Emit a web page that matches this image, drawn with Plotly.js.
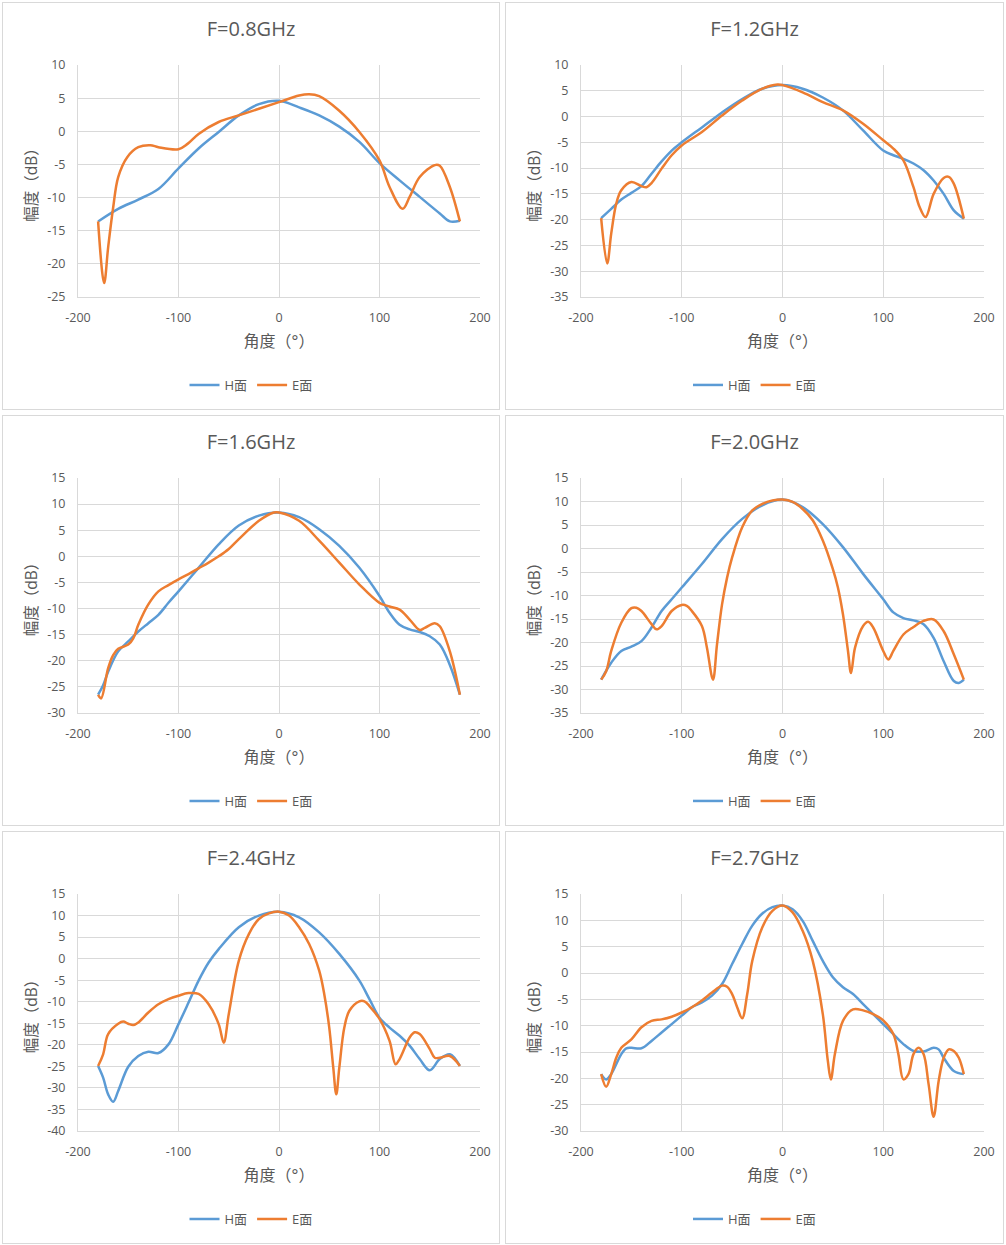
<!DOCTYPE html>
<html>
<head>
<meta charset="utf-8">
<script src="https://cdn.plot.ly/plotly-3.0.1.min.js"></script>
<style>
  body { margin: 0; background: #fff; }
  .chartBox {
    position: absolute;
    box-sizing: border-box;
    border: 1px solid #d9d9d9;
    background: #fff;
  }
</style>
</head>
<body>
<script>
// 0.8 GHz
var h08Deg = [-180, -160, -140, -120, -100, -80, -60, -40, -20, 0, 20, 40, 60, 80, 100, 120, 140, 160, 170, 180];
var h08Val = [-13.6, -11.7, -10.3, -8.7, -5.6, -2.6, -0.1, 2.4, 4.1, 4.6, 3.6, 2.4, 0.7, -1.6, -4.8, -7.4, -9.9, -12.4, -13.6, -13.5];
var e08Deg = [-180, -174, -170, -165, -160, -151, -140, -128, -120, -100, -91, -80, -60, -40, -20, 0, 20, 30, 40, 60, 80, 100, 110, 123, 130, 140, 155, 160, 170, 180];
var e08Val = [-13.6, -22.9, -17.5, -11.5, -6.9, -3.9, -2.4, -2.1, -2.4, -2.7, -1.9, -0.4, 1.4, 2.4, 3.4, 4.4, 5.4, 5.6, 5.3, 3.1, -0.1, -4.4, -8.4, -11.7, -9.9, -6.9, -5.1, -5.2, -8.4, -13.6];

// 1.2 GHz
var h12Deg = [-180, -170, -160, -150, -140, -130, -120, -110, -100, -80, -60, -40, -20, 0, 20, 40, 60, 80, 100, 110, 120, 130, 140, 150, 160, 170, 180];
var h12Val = [-19.7, -17.9, -16.1, -14.8, -13.5, -11.1, -8.7, -6.6, -5.0, -2.1, 0.8, 3.4, 5.4, 6.1, 5.4, 3.7, 1.2, -2.7, -6.6, -7.5, -8.2, -9.1, -10.4, -12.4, -15.0, -18.2, -19.8];
var e12Deg = [-180, -174, -170, -165, -160, -150, -140, -135, -130, -120, -110, -100, -80, -60, -40, -20, -5, 0, 20, 40, 60, 80, 100, 110, 120, 130, 136, 142, 150, 160, 165, 170, 180];
var e12Val = [-19.7, -28.5, -22.7, -16.9, -14.3, -12.7, -13.5, -13.7, -12.9, -10.1, -7.5, -5.6, -3.0, 0.2, 3.1, 5.4, 6.2, 6.1, 4.7, 2.8, 1.2, -1.4, -4.6, -6.2, -8.5, -13.7, -17.5, -19.5, -15.0, -11.9, -11.7, -13.0, -19.8];

// 1.6 GHz
var h16Deg = [-180, -175, -170, -160, -150, -140, -130, -120, -110, -100, -80, -60, -40, -20, 0, 20, 40, 60, 80, 100, 110, 120, 130, 140, 150, 160, 170, 180];
var h16Val = [-26.5, -24.7, -22.1, -18.2, -16.3, -14.4, -12.8, -11.2, -8.9, -6.7, -2.2, 2.3, 5.9, 7.8, 8.4, 7.5, 5.2, 2.0, -2.2, -7.6, -10.8, -13.1, -14.0, -14.5, -15.3, -16.9, -20.8, -26.5];
var e16Deg = [-180, -177, -170, -165, -160, -150, -145, -140, -130, -120, -110, -100, -90, -80, -70, -60, -50, -40, -20, -5, 0, 20, 40, 60, 80, 100, 110, 120, 130, 140, 145, 155, 160, 170, 180];
var e16Val = [-26.5, -27.2, -21.4, -18.9, -17.7, -16.9, -15.7, -13.1, -9.2, -6.7, -5.5, -4.4, -3.4, -2.3, -1.2, 0.0, 1.4, 3.3, 6.8, 8.4, 8.4, 6.8, 3.0, -1.2, -5.4, -8.9, -9.6, -10.2, -12.1, -14.1, -13.7, -12.8, -13.4, -18.2, -26.5];

// 2.0 GHz
var h20Deg = [-180, -170, -160, -150, -140, -130, -120, -110, -100, -80, -60, -40, -20, 0, 20, 40, 60, 80, 100, 110, 120, 130, 140, 150, 160, 170, 175, 180];
var h20Val = [-27.9, -24.3, -21.8, -20.9, -19.7, -16.8, -13.3, -10.8, -8.3, -3.3, 2.0, 6.3, 9.2, 10.4, 8.8, 5.2, 0.3, -5.4, -10.8, -13.6, -14.8, -15.3, -16.1, -19.0, -24.0, -28.2, -28.6, -27.9];
var e20Deg = [-180, -175, -170, -160, -150, -145, -140, -130, -125, -120, -110, -100, -95, -90, -80, -75, -69, -65, -60, -55, -50, -40, -30, -20, -10, 0, 10, 20, 30, 40, 50, 55, 60, 65, 68, 72, 80, 85, 90, 100, 105, 110, 120, 130, 140, 150, 160, 170, 180];
var e20Val = [-27.9, -26.1, -21.8, -15.8, -12.7, -12.6, -13.3, -16.1, -17.2, -16.5, -13.3, -12.0, -12.2, -13.3, -16.5, -21.1, -27.9, -20.4, -11.9, -6.2, -1.9, 4.5, 8.1, 9.5, 10.2, 10.4, 9.9, 8.4, 6.0, 1.7, -4.4, -8.3, -14.0, -21.8, -26.5, -21.1, -16.5, -15.6, -16.8, -21.8, -23.6, -21.8, -18.3, -16.7, -15.4, -15.1, -17.6, -22.5, -27.9];

// 2.4 GHz
var h24Deg = [-180, -175, -170, -165, -160, -150, -140, -130, -120, -110, -100, -90, -80, -70, -60, -40, -20, 0, 20, 40, 60, 80, 90, 100, 110, 120, 130, 140, 150, 160, 170, 180];
var h24Val = [-24.9, -27.6, -31.5, -33.2, -30.7, -25.1, -22.6, -21.6, -21.9, -19.9, -15.2, -10.2, -5.1, -0.9, 2.2, 7.3, 10.0, 10.9, 9.6, 6.1, 1.1, -5.1, -9.4, -13.7, -16.0, -17.9, -20.2, -23.3, -25.9, -23.3, -22.2, -24.9];
var e24Deg = [-180, -175, -170, -160, -155, -150, -145, -140, -130, -120, -110, -100, -90, -80, -70, -60, -55, -50, -40, -30, -20, -10, 0, 10, 20, 30, 40, 45, 50, 54, 57, 60, 65, 70, 80, 85, 90, 100, 110, 116, 120, 130, 135, 140, 150, 155, 160, 170, 180];
var e24Val = [-24.9, -22.2, -17.5, -15.1, -14.6, -15.1, -15.4, -14.8, -12.5, -10.6, -9.4, -8.6, -8.0, -8.2, -10.6, -15.2, -19.5, -12.9, -0.5, 5.7, 9.2, 10.5, 10.9, 10.0, 7.3, 3.4, -2.8, -8.2, -16.0, -25.3, -31.5, -25.3, -16.0, -12.1, -9.9, -9.9, -11.0, -14.0, -19.1, -24.5, -23.3, -18.3, -17.1, -17.5, -21.0, -23.0, -23.0, -22.6, -24.9];

// 2.7 GHz
var h27Deg = [-180, -175, -170, -160, -155, -150, -140, -130, -120, -110, -100, -90, -80, -70, -60, -50, -40, -30, -20, -10, 0, 10, 20, 30, 40, 50, 60, 70, 80, 90, 100, 110, 120, 130, 140, 150, 155, 160, 170, 180];
var h27Val = [-19.2, -20.2, -19.2, -15.4, -14.3, -14.2, -14.3, -12.9, -11.3, -9.7, -8.1, -6.5, -5.6, -4.3, -2.1, 1.7, 5.5, 9.0, 11.3, 12.5, 12.8, 12.1, 9.9, 6.1, 2.3, -0.8, -2.7, -4.0, -5.9, -7.8, -9.7, -11.6, -13.5, -14.8, -14.9, -14.2, -14.5, -16.1, -18.6, -19.2];
var e27Deg = [-180, -175, -170, -165, -160, -150, -140, -130, -120, -110, -100, -90, -80, -70, -60, -55, -50, -45, -40, -35, -30, -20, -10, 0, 10, 20, 30, 40, 45, 48, 52, 60, 70, 80, 90, 100, 110, 115, 120, 125, 130, 135, 140, 145, 150, 155, 160, 165, 170, 175, 180];
var e27Val = [-19.2, -21.6, -19.2, -16.1, -14.2, -12.6, -10.3, -9.1, -8.8, -8.3, -7.5, -6.5, -5.2, -3.7, -2.4, -2.6, -4.0, -6.5, -8.6, -4.0, 2.3, 8.7, 11.8, 12.8, 11.5, 8.0, 2.3, -7.8, -16.7, -20.2, -15.4, -9.1, -6.9, -7.1, -7.8, -9.0, -11.6, -15.4, -20.2, -19.2, -15.4, -14.2, -15.4, -21.1, -27.3, -20.5, -16.1, -14.5, -14.8, -16.1, -19.2];

var titles = ['F=0.8GHz', 'F=1.2GHz', 'F=1.6GHz', 'F=2.0GHz', 'F=2.4GHz', 'F=2.7GHz'];
var yRanges = [[-25, 10], [-35, 10], [-30, 15], [-35, 15], [-40, 15], [-30, 15]];
var xTicks = [-200, -100, 0, 100, 200];

var panels = [
  [h08Deg, h08Val, e08Deg, e08Val],
  [h12Deg, h12Val, e12Deg, e12Val],
  [h16Deg, h16Val, e16Deg, e16Val],
  [h20Deg, h20Val, e20Deg, e20Val],
  [h24Deg, h24Val, e24Deg, e24Val],
  [h27Deg, h27Val, e27Deg, e27Val]
];

// box positions on the page: left, top, width, height
var boxes = [
  [2, 2, 498, 408], [505, 2, 499, 408],
  [2, 415, 498, 411], [505, 415, 499, 411],
  [2, 831, 498, 413], [505, 831, 499, 413]
];

var textColor = '#595959';
var gridColor = '#d9d9d9';
var fontFamily = '"Open Sans", "Noto Sans CJK SC", sans-serif';

// Excel writes negatives with a plain hyphen, not a minus sign
function tickLabels(vals) {
  return vals.map(v => String(v));
}

function yTickVals(range) {
  var vals = [];
  for (var v = range[0]; v <= range[1]; v += 5) vals.push(v);
  return vals;
}

function drawPanel(i) {
  var b = boxes[i];
  var div = document.createElement('div');
  div.className = 'chartBox';
  div.style.left = b[0] + 'px';
  div.style.top = b[1] + 'px';
  div.style.width = b[2] + 'px';
  div.style.height = b[3] + 'px';
  document.body.append(div);

  var p = panels[i];
  var traces = [
    { x: p[0], y: p[1], name: 'H面', mode: 'lines',
      line: { color: '#5b9bd5', width: 2.5, shape: 'spline', smoothing: 1 } },
    { x: p[2], y: p[3], name: 'E面', mode: 'lines',
      line: { color: '#ed7d31', width: 2.5, shape: 'spline', smoothing: 1 } }
  ];

  var yVals = yTickVals(yRanges[i]);
  var w = b[2] - 2, h = b[3] - 2;
  Plotly.newPlot(div, traces, {
    width: w,
    height: h,
    margin: { l: 75, r: 19, t: 62, b: 112 },
    paper_bgcolor: '#fff',
    plot_bgcolor: '#fff',
    font: { family: fontFamily, color: textColor, size: 12 },
    title: {
      text: titles[i],
      font: { size: 20, color: textColor },
      x: 0.5, xanchor: 'center',
      y: 1 - 26 / h, yref: 'container', yanchor: 'middle'
    },
    xaxis: {
      range: [-200, 200],
      tickmode: 'array',
      tickvals: xTicks,
      ticktext: tickLabels(xTicks),
      showgrid: true,
      gridcolor: gridColor,
      zeroline: false,
      showline: true,
      linecolor: gridColor,
      ticks: '',
      ticklabelstandoff: 9,
      tickfont: { size: 12.5, color: textColor },
      title: { text: '角度（°）', font: { size: 16, color: textColor }, standoff: 10 }
    },
    yaxis: {
      range: yRanges[i],
      tickmode: 'array',
      tickvals: yVals,
      ticktext: tickLabels(yVals),
      showgrid: true,
      gridcolor: gridColor,
      zeroline: false,
      showline: true,
      linecolor: gridColor,
      ticks: '',
      ticklabelstandoff: 9,
      tickfont: { size: 12.5, color: textColor },
      title: { text: '幅度（dB）', font: { size: 15.5, color: textColor }, standoff: 5 }
    },
    showlegend: true,
    legend: {
      orientation: 'h',
      x: 0.5, xanchor: 'center', xref: 'container',
      y: 24 / h, yanchor: 'middle', yref: 'container',
      font: { size: 13, color: textColor },
      itemwidth: 30
    }
  }, { displayModeBar: false, staticPlot: true });
}

for (var i = 0; i < panels.length; i++) drawPanel(i);
</script>
</body>
</html>
